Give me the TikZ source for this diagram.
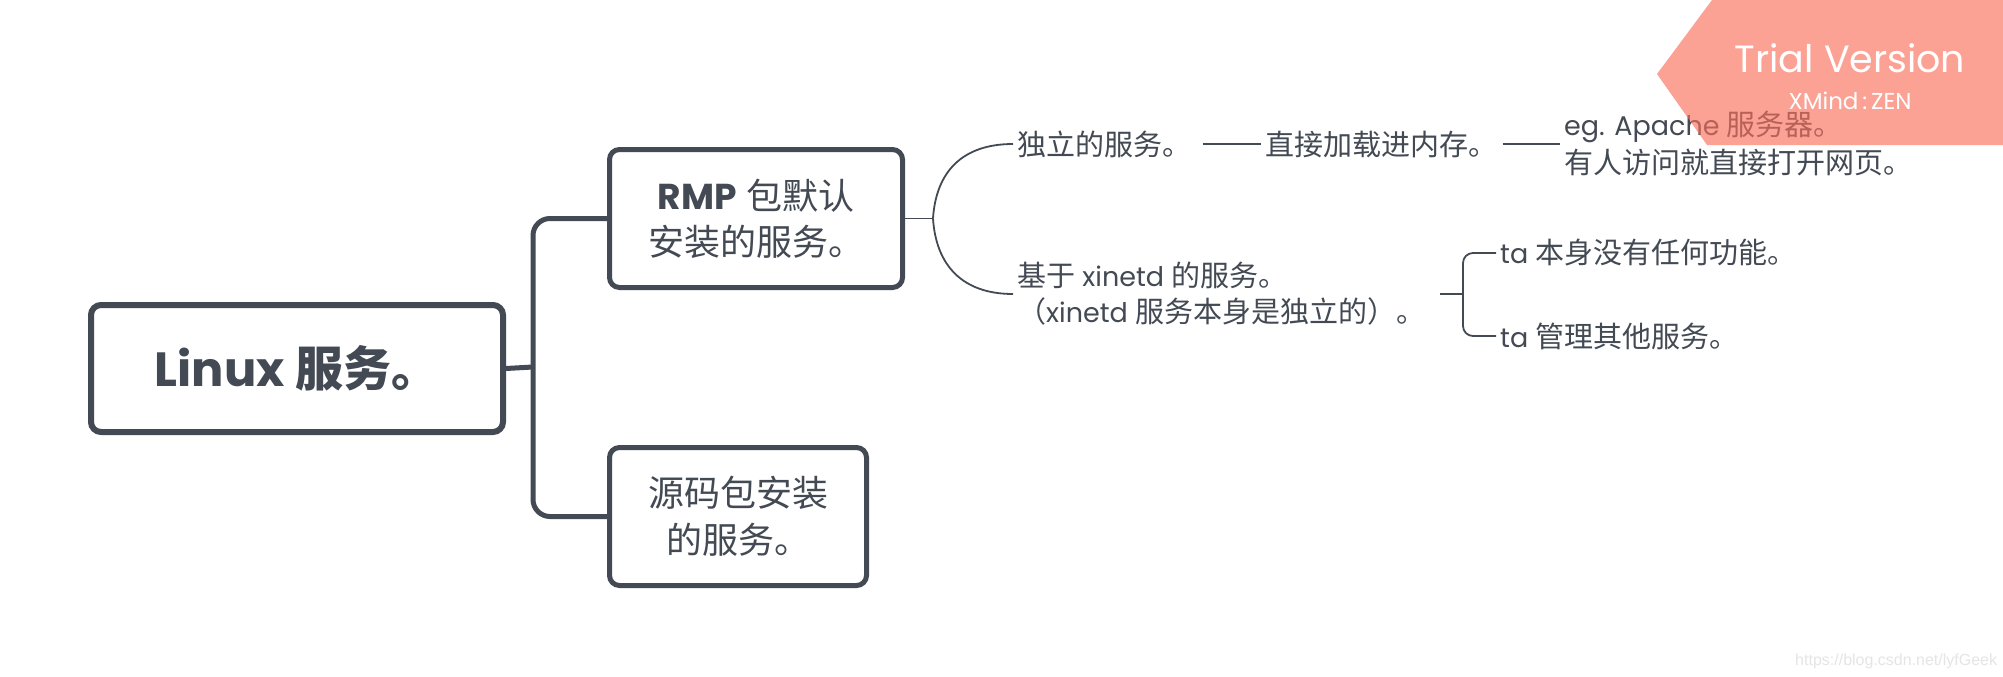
\documentclass[tikz,border=0pt]{standalone}
\usepackage{fontspec}
\setmainfont{Poppins}
\newfontfamily\cjk{Noto Sans CJK SC}
\newfontfamily\cjks[Scale=1.075]{Noto Sans CJK SC}
\newfontfamily\arialfont{Liberation Sans}
\newcommand{\zh}[1]{{\cjk #1}}
\newcommand{\zs}[1]{{\cjks #1}}
\definecolor{ink}{RGB}{67,74,84}
\definecolor{wmfill}{RGB}{250,110,90}
\begin{document}
\begin{tikzpicture}[x=1pt,y=-1pt,
  box/.style={draw=ink, text=ink, line width=5pt, rounded corners=10pt, fill=white, align=center, inner sep=0pt},
  lbl/.style={text=ink, inner ysep=0pt, inner xsep=4pt, anchor=west, align=left, font=\fontsize{27}{37}\selectfont},
  trunk/.style={draw=ink, line width=5pt, rounded corners=17pt},
  twig/.style={draw=ink, line width=1.8pt},
  wmtext/.style={text=white, inner sep=0pt, anchor=base}]
\useasboundingbox (0,0) rectangle (2003,677);
\fill[white] (0,0) rectangle (2003,677);

% main nodes
\node[box, line width=6pt, minimum width=412pt, minimum height=127pt,
      font=\fontsize{48}{58}\selectfont\bfseries] (root) at (297,368.5) {Linux \zh{服务。}};
\node[box, minimum width=293pt, minimum height=138pt,
      font=\fontsize{36}{46}\selectfont] (rmp) at (756,218.5) {\textbf{RMP} \zh{包默认}\\\zh{安装的服务。}};
\node[box, minimum width=257pt, minimum height=138pt,
      font=\fontsize{36}{47}\selectfont] (src) at (738,516.5) {\zh{源码包安装}\\\zh{的服务。}};

% text nodes
\node[lbl] (n1) at (1013,144) {\zs{独立的服务。}};
\node[lbl] (n3) at (1261,144) {\zs{直接加载进内存。}};
\node[lbl, font=\fontsize{27}{38}\selectfont] (n4) at (1560,144) {eg. Apache \zs{服务器。}\\\zs{有人访问就直接打开网页。}};
\node[lbl, font=\fontsize{27}{36}\selectfont] (n2) at (1013,294) {\zs{基于} xinetd \zs{的服务。}\\\zs{（}xinetd \zs{服务本身是独立的）。}};
\node[lbl] (n5) at (1496,253) {ta \zs{本身没有任何功能。}};
\node[lbl] (n6) at (1496,336) {ta \zs{管理其他服务。}};

% junctions
\coordinate (j1) at (533,367);
\coordinate (j2) at (933,218.5);
\coordinate (j3) at (1463,294);

% connectors
\draw[trunk] (root.east) -- (j1);
\draw[trunk] (rmp.west) -| (j1) |- (src.west);
\draw[twig] (rmp.east) -- (j2);
\draw[twig] (j2) .. controls (936,172) and (962,144) .. (n1.west);
\draw[twig] (j2) .. controls (936,265) and (962,294) .. (n2.west);
\draw[twig, shorten <=7pt] (n1.east) -- (n3.west);
\draw[twig, shorten <=1pt] (n3.east) -- (n4.west);
\draw[twig, shorten <=10pt] (n2.east) -- (j3);
\draw[twig, rounded corners=10pt] (n5.west) -| (j3) |- (n6.west);

% watermark
\fill[wmfill, opacity=0.64] (1712,0) -- (2003,0) -- (2003,145) -- (1707,145) -- (1657,74) -- cycle;
\node[wmtext, font=\fontsize{38}{44}\selectfont] (wm1) at (1850,73) {Trial Version};
\node[wmtext, font=\fontsize{23}{28}\selectfont] (wm2) at (1850,110) {XMind\,:\,ZEN};
\node[inner sep=0pt, anchor=base west, text=black!10, font=\arialfont\fontsize{16}{19}\selectfont] (csdn) at (1795,665) {https://blog.csdn.net/lyfGeek};
\end{tikzpicture}
\end{document}
